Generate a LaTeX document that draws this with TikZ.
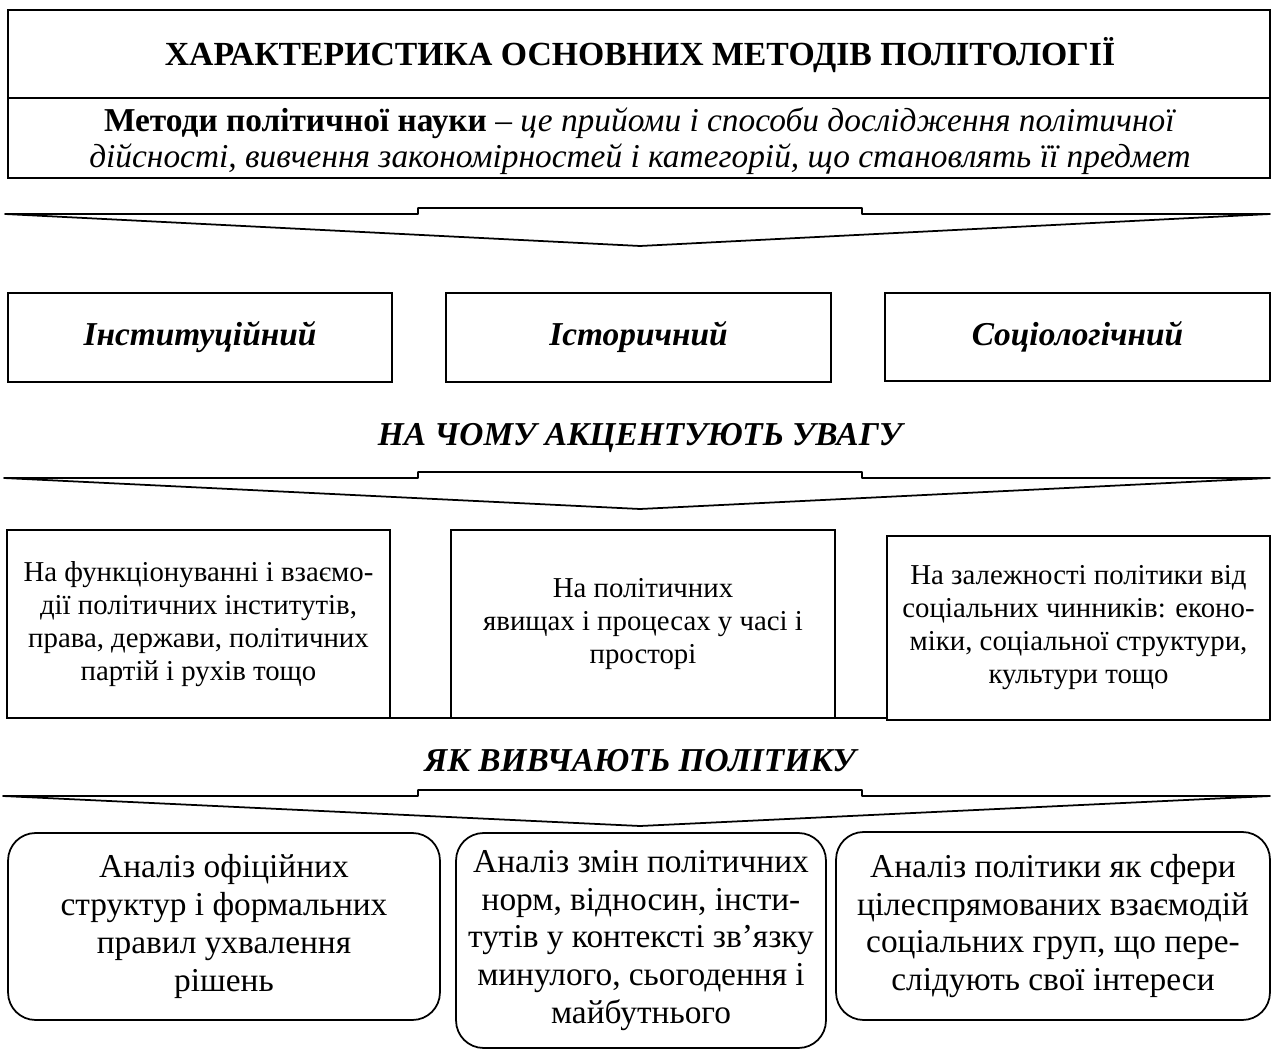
\documentclass[tikz,border=0pt]{standalone}
\usepackage{fontspec}
\setmainfont{Liberation Serif}

\begin{document}
\begin{tikzpicture}[x=0.02cm,y=-0.02cm,line width=1pt,
  plainbox/.style={draw=black,rectangle,align=center,inner sep=0pt},
  roundbox/.style={draw=black,rectangle,rounded corners=0.55cm,align=center,inner sep=0pt},
  bigarrow/.style={draw=black,line join=round},
  headfont/.style={font=\fontsize{19}{22}\selectfont\bfseries\itshape},
  smallfont/.style={font=\fontsize{16.4}{18.8}\selectfont},
  largefont/.style={font=\fontsize{19}{21.6}\selectfont}]
\useasboundingbox (0,0) rectangle (1274,1050);
%Title
\draw (8,10) rectangle (1270,178);
\draw (8,98) -- (1270,98);
\node at (640,55) [font=\fontsize{19.2}{22}\selectfont\bfseries] (Title) {ХАРАКТЕРИСТИКА ОСНОВНИХ МЕТОДІВ ПОЛІТОЛОГІЇ};
\node at (640,141) [align=center,font=\fontsize{19}{20.5}\selectfont] (Definition)
  {\textbf{Методи політичної науки} -- \textit{це прийоми і способи дослідження політичної}\\
   \textit{дійсності, вивчення закономірностей і категорій, що становлять її предмет}};
%Arrows
\draw [bigarrow] (5,214) -- (418,214) -- (418,208) -- (862,208) -- (862,214) -- (1270,214) -- (640,246) -- cycle;
\draw [bigarrow] (4,478) -- (418,478) -- (418,472) -- (862,472) -- (862,478) -- (1270,478) -- (640,509) -- cycle;
\draw [bigarrow] (3,796) -- (418,796) -- (418,790) -- (862,790) -- (862,796) -- (1270,796) -- (640,826) -- cycle;
%Methods
\node at (200,337.5) [plainbox,headfont,minimum width=7.68cm,minimum height=1.78cm] (Box1) {Інституційний};
\node at (638.5,337.5) [plainbox,headfont,minimum width=7.7cm,minimum height=1.78cm] (Box2) {Історичний};
\node at (1077.5,337) [plainbox,headfont,minimum width=7.7cm,minimum height=1.76cm] (Box3) {Соціологічний};
%Headings
\node at (640,438) [headfont] (Focus) {НА ЧОМУ АКЦЕНТУЮТЬ УВАГУ};
\node at (640,761) [headfont] (Study) {ЯК ВИВЧАЮТЬ ПОЛІТИКУ};
%Focus boxes
\draw (7,718) -- (887,718);
\node at (198.5,624) [plainbox,smallfont,minimum width=7.66cm,minimum height=3.76cm] (Box4)
  {На функціонуванні і взаємо-\\дії політичних інститутів,\\права, держави, політичних\\партій і рухів тощо};
\node at (643,624) [plainbox,smallfont,minimum width=7.68cm,minimum height=3.76cm] (Box5)
  {На політичних\\явищах і процесах у часі і\\просторі};
\node at (1078.5,628) [plainbox,smallfont,minimum width=7.66cm,minimum height=3.68cm] (Box6)
  {На залежності політики від\\соціальних чинників: еконо-\\міки, соціальної структури,\\культури тощо};
%Study boxes
\node at (224,926.5) [roundbox,largefont,minimum width=8.64cm,minimum height=3.74cm] (Box7)
  {Аналіз офіційних\\структур і формальних\\правил ухвалення\\рішень};
\node at (641,940.5) [roundbox,largefont,minimum width=7.4cm,minimum height=4.3cm] (Box8)
  {Аналіз змін політичних\\норм, відносин, інсти-\\тутів у контексті зв’язку\\минулого, сьогодення і\\майбутнього};
\node at (1053,926) [roundbox,largefont,minimum width=8.68cm,minimum height=3.76cm] (Box9)
  {Аналіз політики як сфери\\цілеспрямованих взаємодій\\соціальних груп, що пере-\\слідують свої інтереси};
\end{tikzpicture}
\end{document}
